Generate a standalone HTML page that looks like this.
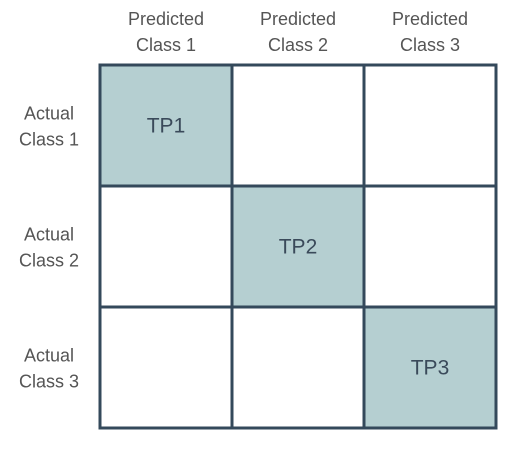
<!DOCTYPE html>
<html><head><meta charset="utf-8"><style>
body{margin:0;background:#fff;width:513px;height:444px;overflow:hidden}
svg text{font-family:"Liberation Sans",sans-serif}
</style></head><body>
<svg width="513" height="444">
<g id="g"></g>
</svg>
<script>
const predLabels=[["Predicted","Class 1"],["Predicted","Class 2"],["Predicted","Class 3"]];
const actualLabels=[["Actual","Class 1"],["Actual","Class 2"],["Actual","Class 3"]];
const cellText=[["TP1","",""],["","TP2",""],["","","TP3"]];
const x0=100,y0=65,cw=132,ch=121;
const g=document.getElementById('g');
const NS='http://www.w3.org/2000/svg';
function mk(t,a){const e=document.createElementNS(NS,t);for(const k in a)e.setAttribute(k,a[k]);g.appendChild(e);return e;}
for(let r=0;r<3;r++)for(let c=0;c<3;c++){
 const rect=mk('rect',{x:x0+c*cw,y:y0+r*ch,width:cw,height:ch,fill:cellText[r][c]?'#b5cfd1':'#fff',stroke:'#34495b','stroke-width':3});
 
 
 if(cellText[r][c]){const t=mk('text',{x:x0+c*cw+cw/2,y:y0+r*ch+ch/2+7,'text-anchor':'middle','font-size':21,fill:'#3a4a5a'});t.textContent=cellText[r][c];
 
 }
}
predLabels.forEach((l,i)=>{l.forEach((s,j)=>{const t=mk('text',{x:x0+i*cw+cw/2,y:25+j*26,'text-anchor':'middle','font-size':18,fill:'#555'});t.textContent=s;
 
 });});
actualLabels.forEach((l,i)=>{l.forEach((s,j)=>{const t=mk('text',{x:49,y:y0+i*ch+ch/2-6+j*26,'text-anchor':'middle','font-size':18,fill:'#555'});t.textContent=s;
 
 });});
</script>
</body></html>
